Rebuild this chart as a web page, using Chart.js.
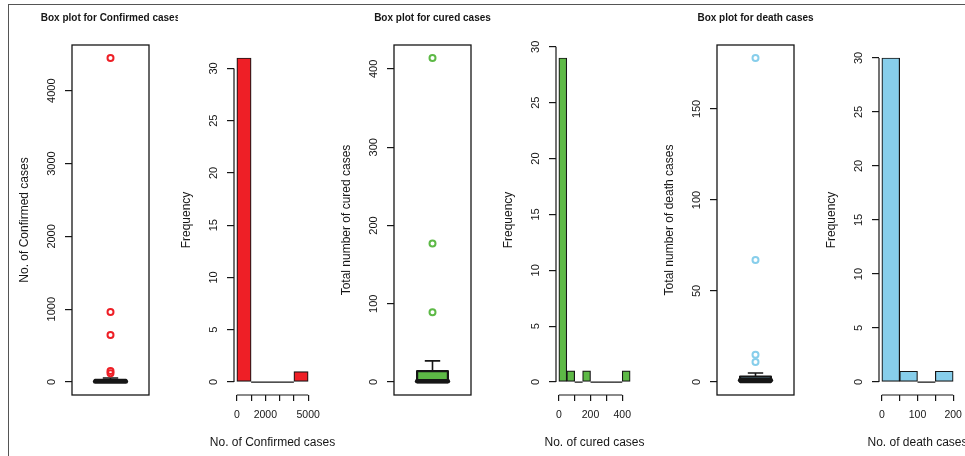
<!DOCTYPE html>
<html>
<head>
<meta charset="utf-8">
<script src="https://cdn.jsdelivr.net/npm/chart.js@4.4.1/dist/chart.umd.min.js"></script>
<style>
  html, body { margin: 0; padding: 0; background: #fff; }
  #wrap { position: relative; width: 965px; height: 456px; overflow: hidden; }
  #frame { position: absolute; left: 8px; top: 4px; width: 980px; height: 470px;
           border-top: 1px solid #555; border-left: 1px solid #555; }
  canvas { position: absolute; top: 0; }
</style>
</head>
<body>
<div id="wrap"><div id="frame"></div></div>
<script>
// box plot data: outliers and [lower whisker, q1, median, q3, upper whisker]
const confOutliers = [4450, 962, 646, 150, 120];
const confBox = [0, 2, 8, 30, 55];
const curedOutliers = [414, 177, 89];
const curedBox = [0, 0, 1, 14, 27];
const deathOutliers = [178, 67, 15, 11];
const deathBox = [0, 0, 1, 3, 5];

// histogram data: bin edges and counts
const confBins = [0, 1000, 2000, 3000, 4000, 5000];
const confCounts = [31, 0, 0, 0, 1];
const curedBins = [0, 50, 100, 150, 200, 250, 300, 350, 400, 450];
const curedCounts = [29, 1, 0, 1, 0, 0, 0, 0, 1];
const deathBins = [0, 50, 100, 150, 200];
const deathCounts = [30, 1, 0, 1];

// tick values and labels
const confBoxTicks = [0, 1000, 2000, 3000, 4000];
const curedBoxTicks = [0, 100, 200, 300, 400];
const deathBoxTicks = [0, 50, 100, 150];
const freqTicks = [0, 5, 10, 15, 20, 25, 30];
const confHistTicks = [0, 1000, 2000, 3000, 4000, 5000];
const confHistLabels = ['0', '', '2000', '', '', '5000'];
const curedHistTicks = [0, 100, 200, 300, 400];
const curedHistLabels = ['0', '', '200', '', '400'];
const deathHistTicks = [0, 50, 100, 150, 200];
const deathHistLabels = ['0', '', '100', '', '200'];

const FONT = '"Liberation Sans", Arial, Helvetica, sans-serif';
const INK = '#161616';
const Y_TICK_PX = 11;
const X_TICK_PX = 10.5;
const RED = '#EE1F26', GREEN = '#5DB946', BLUE = '#87CEEB';

const wrap = document.getElementById('wrap');
const mctx = document.createElement('canvas').getContext('2d');
function textW(s, px) {
    mctx.font = px + 'px ' + FONT;
    return mctx.measureText(s).width;
}

function makeCanvas(plotLeft) {
    const c = document.createElement('canvas');
    c.width = 161;
    c.height = 456;
    c.style.left = (plotLeft - 55) + 'px';
    wrap.appendChild(c);
    return c;
}

// centred text over the plot area (main title on top, axis title below)
function labelPlugin(main, sub) {
    return {
        id: 'rlabels',
        afterDraw(chart) {
            const { ctx, chartArea: a } = chart;
            const cx = (a.left + a.right) / 2;
            ctx.save();
            ctx.fillStyle = INK;
            ctx.textAlign = 'center';
            ctx.textBaseline = 'middle';
            if (main) {
                ctx.font = 'bold 10px ' + FONT;
                ctx.fillText(main, cx, 18);
            }
            if (sub) {
                ctx.font = '12px ' + FONT;
                ctx.fillText(sub, cx, 443);
            }
            ctx.restore();
        }
    };
}

function yScale(ticks, lo, hi, titleText) {
    const widest = Math.max(...ticks.map(t => textW(String(t), Y_TICK_PX)));
    return {
        type: 'linear', position: 'left', min: lo, max: hi,
        afterBuildTicks: s => { s.ticks = ticks.map(v => ({ value: v })); },
        afterFit: s => { s.width = 55; s.paddingTop = 0; s.paddingBottom = 0; },
        border: { display: false },
        grid: { drawOnChartArea: false, drawTicks: true, tickLength: 7, color: INK, lineWidth: 1.2 },
        ticks: {
            autoSkip: false, minRotation: 90, maxRotation: 90, crossAlign: 'center',
            padding: 13 - widest / 2, color: INK,
            font: { family: FONT, size: Y_TICK_PX },
            callback: v => String(v)
        },
        title: { display: true, text: titleText, color: INK, font: { family: FONT, size: 12 }, padding: { top: 0, bottom: 0 } }
    };
}

function boxPlugin(stats, fill) {
    return {
        id: 'rbox',
        beforeDatasetsDraw(chart) {
            const { ctx, scales: { x, y } } = chart;
            const [lo, q1, med, q3, hi] = stats;
            const xl = x.getPixelForValue(0.8), xr = x.getPixelForValue(1.2);
            const xc = x.getPixelForValue(1);
            const cl = x.getPixelForValue(0.9), cr = x.getPixelForValue(1.1);
            ctx.save();
            ctx.strokeStyle = INK;
            ctx.lineWidth = 1.6;
            ctx.beginPath();
            ctx.moveTo(xc, y.getPixelForValue(q3)); ctx.lineTo(xc, y.getPixelForValue(hi));
            ctx.moveTo(cl, y.getPixelForValue(hi)); ctx.lineTo(cr, y.getPixelForValue(hi));
            ctx.moveTo(xc, y.getPixelForValue(q1)); ctx.lineTo(xc, y.getPixelForValue(lo));
            ctx.moveTo(cl, y.getPixelForValue(lo)); ctx.lineTo(cr, y.getPixelForValue(lo));
            ctx.stroke();
            const top = y.getPixelForValue(q3), bot = y.getPixelForValue(q1);
            ctx.fillStyle = fill;
            ctx.fillRect(xl, top, xr - xl, bot - top);
            ctx.lineWidth = 2.2;
            ctx.lineJoin = 'round';
            ctx.strokeRect(xl, top, xr - xl, bot - top);
            ctx.lineWidth = 4.5;
            ctx.lineCap = 'round';
            ctx.beginPath();
            ctx.moveTo(xl, y.getPixelForValue(med)); ctx.lineTo(xr, y.getPixelForValue(med));
            ctx.stroke();
            ctx.restore();
        },
        afterDraw(chart) {
            const { ctx, chartArea: a } = chart;
            ctx.save();
            ctx.strokeStyle = INK;
            ctx.lineWidth = 1.3;
            ctx.strokeRect(a.left, a.top, a.right - a.left, a.bottom - a.top);
            ctx.restore();
        }
    };
}

function histPlugin(bins, counts, xTicks, yTicks) {
    return {
        id: 'rhist',
        afterDatasetsDraw(chart) {
            const { ctx, chartArea: a, scales: { x, y } } = chart;
            ctx.save();
            ctx.strokeStyle = INK;
            ctx.lineWidth = 1.2;
            ctx.beginPath();
            counts.forEach((c, i) => {
                if (c === 0) {
                    ctx.moveTo(x.getPixelForValue(bins[i]), y.getPixelForValue(0));
                    ctx.lineTo(x.getPixelForValue(bins[i + 1]), y.getPixelForValue(0));
                }
            });
            ctx.moveTo(x.getPixelForValue(xTicks[0]), a.bottom);
            ctx.lineTo(x.getPixelForValue(xTicks[xTicks.length - 1]), a.bottom);
            ctx.moveTo(a.left, y.getPixelForValue(yTicks[0]));
            ctx.lineTo(a.left, y.getPixelForValue(yTicks[yTicks.length - 1]));
            ctx.stroke();
            ctx.restore();
        }
    };
}

function boxChart(plotLeft, outliers, stats, color, title, yTitle, yTicks) {
    const top = Math.max(...outliers, ...stats);
    const bottom = Math.min(...outliers, ...stats);
    const span = top - bottom;
    new Chart(makeCanvas(plotLeft), {
        type: 'scatter',
        data: {
            datasets: [{
                data: outliers.map(v => ({ x: 1, y: v })),
                pointStyle: 'circle', pointRadius: 3, pointBorderWidth: 2,
                borderColor: color, backgroundColor: 'rgba(0,0,0,0)'
            }]
        },
        options: {
            responsive: false, animation: false, events: [],
            layout: { padding: { left: 0, right: 29, top: 45, bottom: 61 } },
            plugins: { legend: { display: false }, tooltip: { enabled: false } },
            scales: {
                x: { type: 'linear', min: 0.5, max: 1.5, display: false },
                y: yScale(yTicks, bottom - 0.04 * span, top + 0.04 * span, yTitle)
            }
        },
        plugins: [boxPlugin(stats, color), labelPlugin(title, null)]
    });
}

function histChart(plotLeft, bins, counts, color, xTitle, xTicks, xLabels) {
    const mids = counts.map((c, i) => ({ x: (bins[i] + bins[i + 1]) / 2, y: c }));
    const first = bins[0], last = bins[bins.length - 1];
    const span = last - first;
    const top = Math.max(...counts);
    new Chart(makeCanvas(plotLeft), {
        type: 'bar',
        data: {
            datasets: [{
                data: mids, backgroundColor: color, borderColor: INK, borderWidth: 1.2,
                borderSkipped: false, barPercentage: 1, categoryPercentage: 1
            }]
        },
        options: {
            responsive: false, animation: false, events: [],
            layout: { padding: { left: 0, right: 29, top: 45, bottom: 0 } },
            plugins: { legend: { display: false }, tooltip: { enabled: false } },
            scales: {
                x: {
                    type: 'linear', offset: false,
                    min: first - 0.04 * span, max: last + 0.04 * span,
                    afterBuildTicks: s => { s.ticks = xTicks.map(v => ({ value: v })); },
                    afterFit: s => { s.height = 61; s.paddingLeft = 0; s.paddingRight = 0; },
                    border: { display: false },
                    grid: { offset: false, drawOnChartArea: false, drawTicks: true, tickLength: 6, color: INK, lineWidth: 1.2 },
                    ticks: {
                        autoSkip: false, maxRotation: 0, padding: 8, color: INK,
                        font: { family: FONT, size: X_TICK_PX },
                        callback: (v, i) => xLabels[i]
                    }
                },
                y: yScale(freqTicks, -0.04 * top, 1.04 * top, 'Frequency')
            }
        },
        plugins: [histPlugin(bins, counts, xTicks, freqTicks), labelPlugin(null, xTitle)]
    });
}

boxChart(72, confOutliers, confBox, RED, 'Box plot for Confirmed cases', 'No. of Confirmed cases', confBoxTicks);
histChart(234, confBins, confCounts, RED, 'No. of Confirmed cases', confHistTicks, confHistLabels);
boxChart(394, curedOutliers, curedBox, GREEN, 'Box plot for cured cases', 'Total number of cured cases', curedBoxTicks);
histChart(556, curedBins, curedCounts, GREEN, 'No. of cured cases', curedHistTicks, curedHistLabels);
boxChart(717, deathOutliers, deathBox, BLUE, 'Box plot for death cases', 'Total number of death cases', deathBoxTicks);
histChart(879, deathBins, deathCounts, BLUE, 'No. of death cases', deathHistTicks, deathHistLabels);
</script>
</body>
</html>
